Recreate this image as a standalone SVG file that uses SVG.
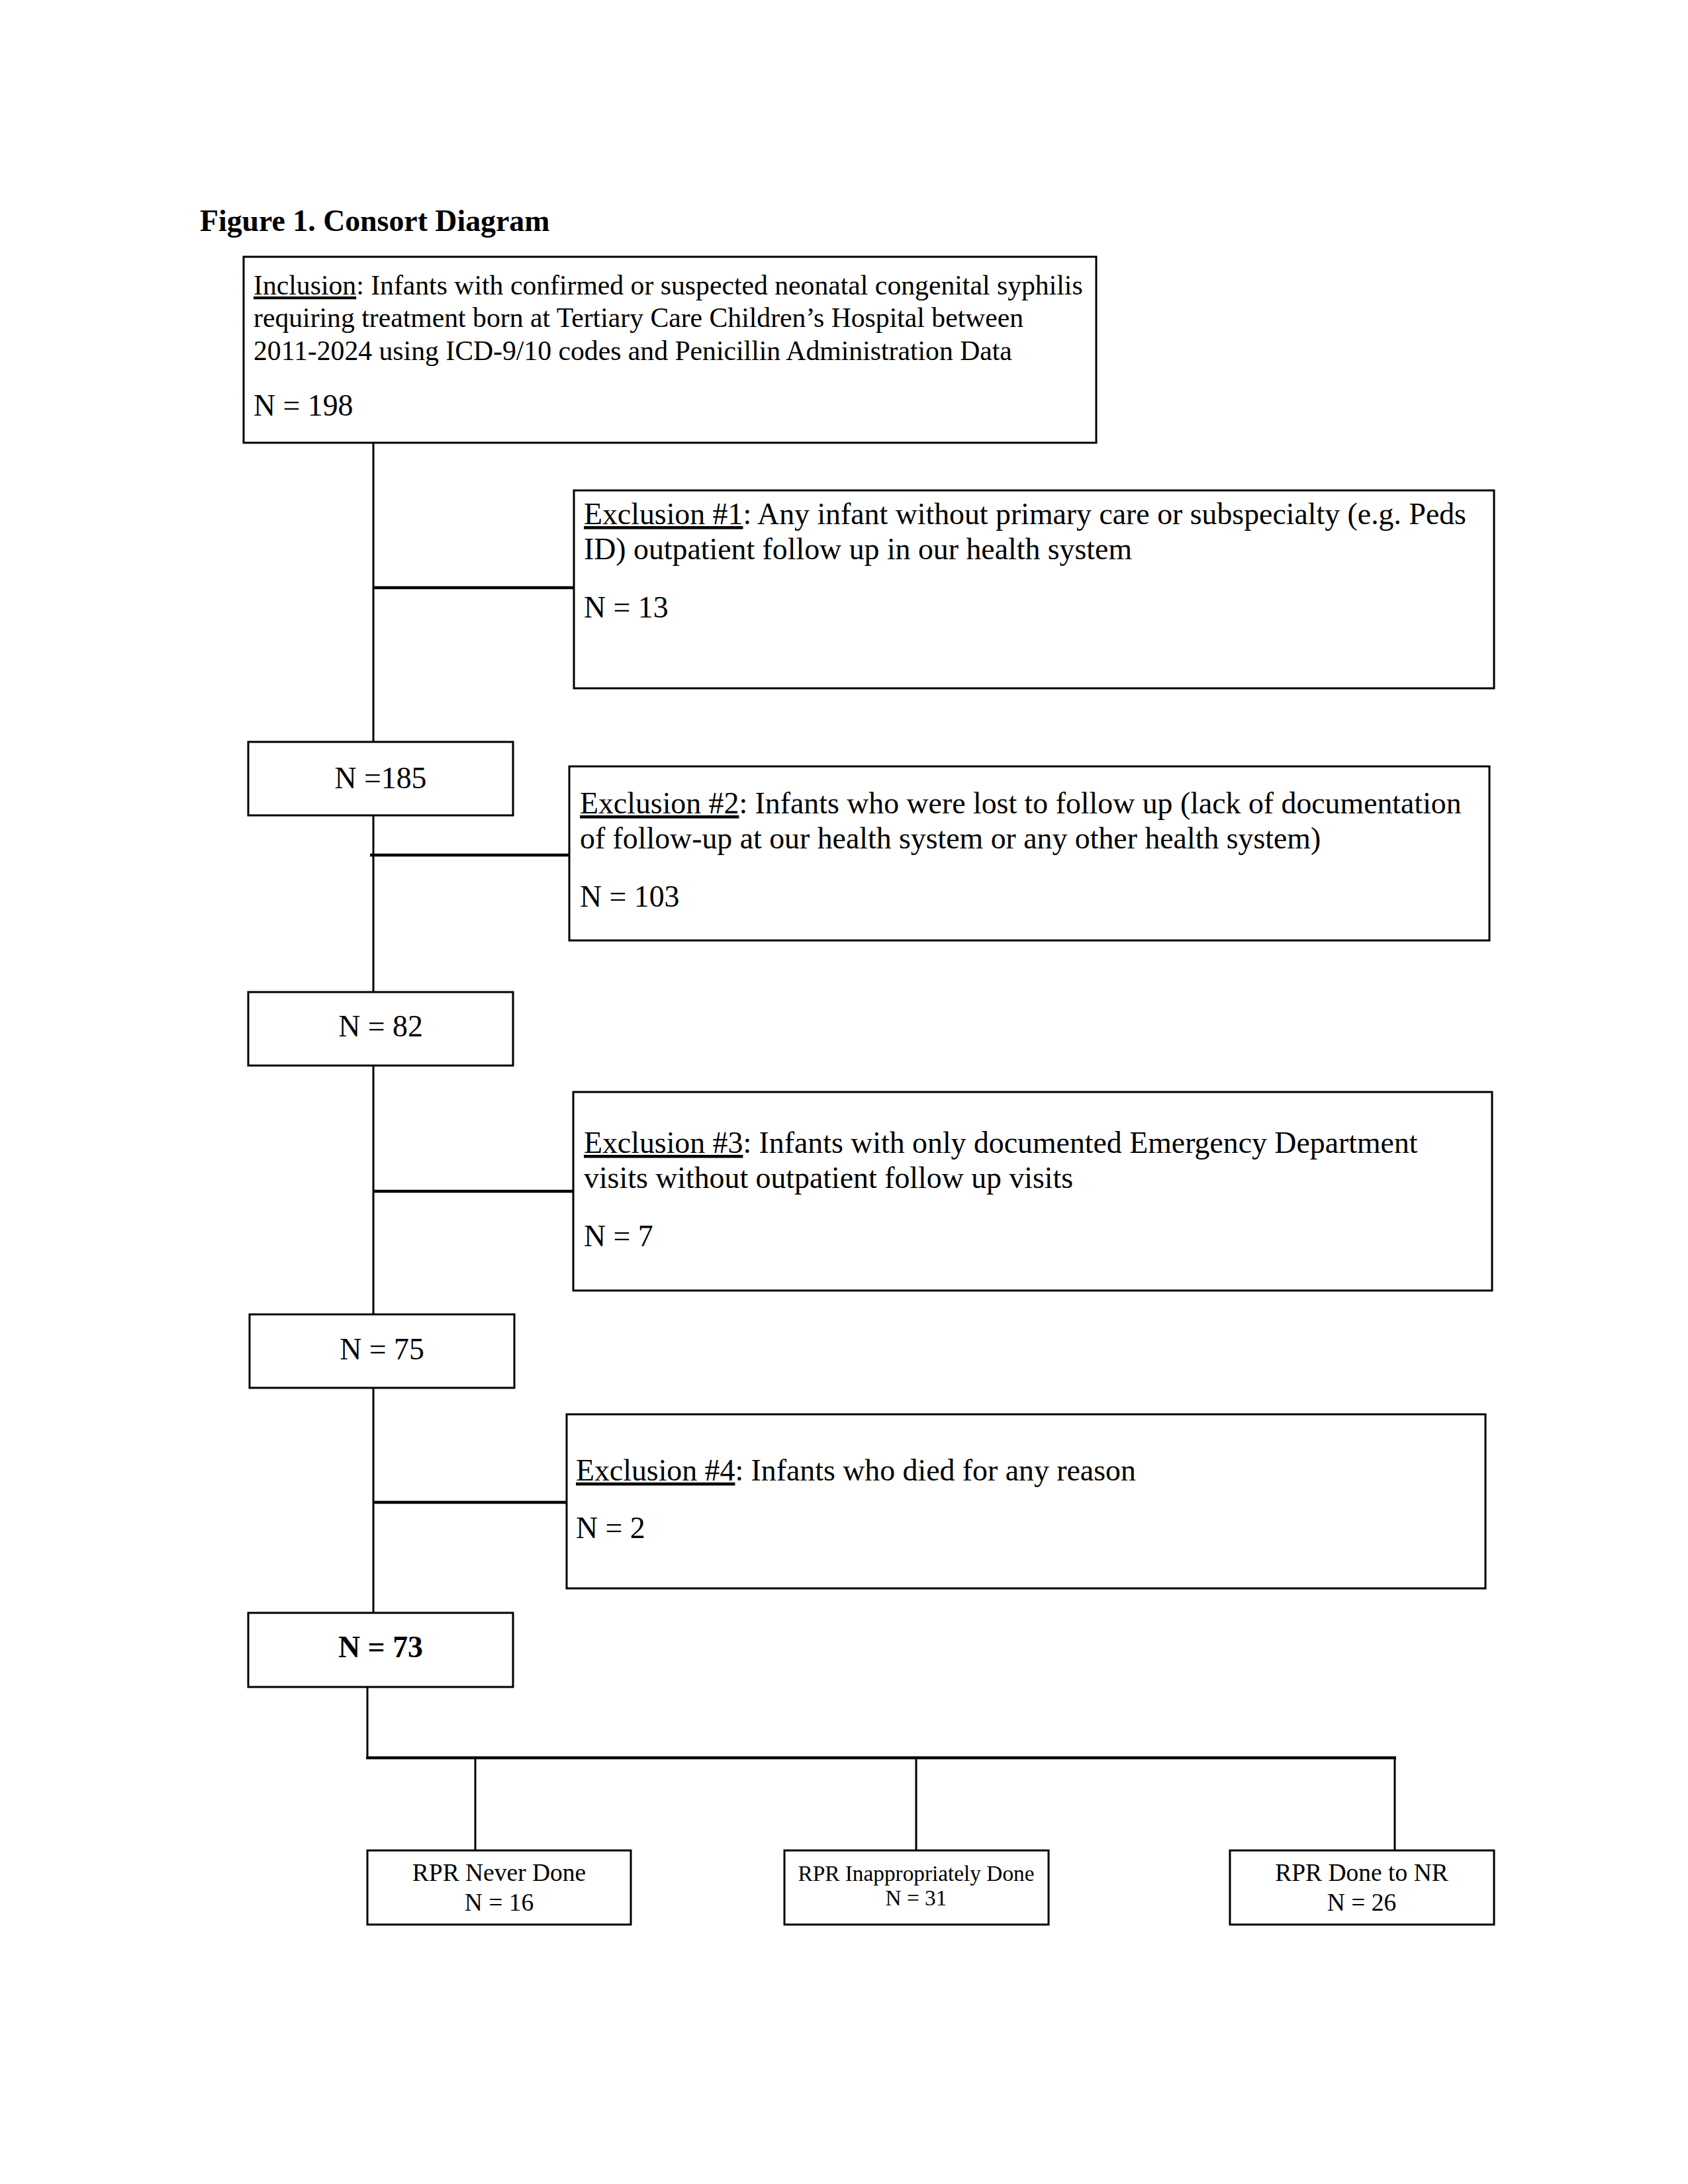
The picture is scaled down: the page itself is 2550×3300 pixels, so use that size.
<svg xmlns="http://www.w3.org/2000/svg" width="2550" height="3300" viewBox="0 0 2550 3300">
<style>
.box{fill:#fff;stroke:#000;stroke-width:3}
.t{font-family:"Liberation Serif","Times New Roman",serif;fill:#000}
.s10{font-size:41.7px}
.s11{font-size:45.8px}
.s9{font-size:37.5px}
.s8{font-size:33.3px}
.c{text-anchor:middle}
.u{text-decoration:underline}
.line{stroke:#000;stroke-width:3;fill:none}
.thick{stroke:#000;stroke-width:4.5;fill:none}
</style>
<rect width="2550" height="3300" fill="#fff"/>
<text class="t" x="302" y="349" font-size="45.8" font-weight="bold">Figure 1. Consort Diagram</text>
<g id="connectors">
<line class="line" x1="564" y1="669" x2="564" y2="1121"/>
<line class="thick" x1="564" y1="888" x2="867" y2="888"/>
<line class="line" x1="564" y1="1232" x2="564" y2="1499"/>
<line class="thick" x1="559" y1="1292" x2="860" y2="1292"/>
<line class="line" x1="564" y1="1610" x2="564" y2="1986"/>
<line class="thick" x1="564" y1="1800" x2="866" y2="1800"/>
<line class="line" x1="564" y1="2097" x2="564" y2="2437"/>
<line class="thick" x1="564" y1="2270" x2="861" y2="2270"/>
<line class="line" x1="555" y1="2549" x2="555" y2="2656"/>
<line class="thick" x1="553" y1="2656" x2="2109" y2="2656"/>
<line class="line" x1="718" y1="2656" x2="718" y2="2796"/>
<line class="line" x1="1384" y1="2656" x2="1384" y2="2796"/>
<line class="line" x1="2107" y1="2656" x2="2107" y2="2796"/>
</g>
<g id="inclusion">
<rect class="box" x="368" y="388" width="1288" height="281"/>
<text class="t s10" x="383" y="445"><tspan class="u">Inclusion</tspan>: Infants with confirmed or suspected neonatal congenital syphilis</text>
<text class="t s10" x="383" y="494">requiring treatment born at Tertiary Care Children’s Hospital between</text>
<text class="t s10" x="383" y="544">2011-2024 using ICD-9/10 codes and Penicillin Administration Data</text>
<text class="t s11" x="383" y="628">N = 198</text>
</g>
<g id="exclusion1">
<rect class="box" x="867" y="741" width="1390" height="299"/>
<text class="t s11" x="882" y="792"><tspan class="u">Exclusion #1</tspan>: Any infant without primary care or subspecialty (e.g. Peds</text>
<text class="t s11" x="882" y="845">ID) outpatient follow up in our health system</text>
<text class="t s11" x="882" y="933">N = 13</text>
</g>
<g id="n185">
<rect class="box" x="375" y="1121" width="400" height="111"/>
<text class="t s11 c" x="575" y="1191">N =185</text>
</g>
<g id="exclusion2">
<rect class="box" x="860" y="1158" width="1390" height="263"/>
<text class="t s11" x="876" y="1229"><tspan class="u">Exclusion #2</tspan>: Infants who were lost to follow up (lack of documentation</text>
<text class="t s11" x="876" y="1282">of follow-up at our health system or any other health system)</text>
<text class="t s11" x="876" y="1370">N = 103</text>
</g>
<g id="n82">
<rect class="box" x="375" y="1499" width="400" height="111"/>
<text class="t s11 c" x="575" y="1566">N = 82</text>
</g>
<g id="exclusion3">
<rect class="box" x="866" y="1650" width="1388" height="300"/>
<text class="t s11" x="882" y="1742"><tspan class="u">Exclusion #3</tspan>: Infants with only documented Emergency Department</text>
<text class="t s11" x="882" y="1795">visits without outpatient follow up visits</text>
<text class="t s11" x="882" y="1883">N = 7</text>
</g>
<g id="n75">
<rect class="box" x="377" y="1986" width="400" height="111"/>
<text class="t s11 c" x="577" y="2054">N = 75</text>
</g>
<g id="exclusion4">
<rect class="box" x="856" y="2137" width="1388" height="263"/>
<text class="t s11" x="870" y="2237"><tspan class="u">Exclusion #4</tspan>: Infants who died for any reason</text>
<text class="t s11" x="870" y="2324">N = 2</text>
</g>
<g id="n73">
<rect class="box" x="375" y="2437" width="400" height="112"/>
<text class="t s11 c" x="575" y="2504" font-weight="bold">N = 73</text>
</g>
<g id="rpr-never">
<rect class="box" x="555" y="2796" width="398" height="112"/>
<text class="t s9 c" x="754" y="2842">RPR Never Done</text>
<text class="t s9 c" x="754" y="2887">N = 16</text>
</g>
<g id="rpr-inappropriate">
<rect class="box" x="1185" y="2796" width="399" height="112"/>
<text class="t s8 c" x="1384" y="2842">RPR Inappropriately Done</text>
<text class="t s8 c" x="1384" y="2879">N = 31</text>
</g>
<g id="rpr-nr">
<rect class="box" x="1858" y="2796" width="399" height="112"/>
<text class="t s9 c" x="2057" y="2842">RPR Done to NR</text>
<text class="t s9 c" x="2057" y="2887">N = 26</text>
</g>
</svg>
